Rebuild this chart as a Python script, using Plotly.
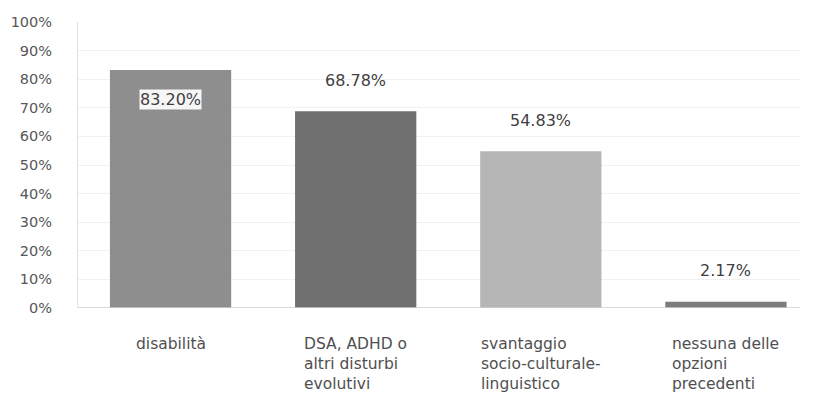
import plotly.graph_objects as go

categories = ["disabilità", "DSA, ADHD o<br>altri disturbi<br>evolutivi",
              "svantaggio<br>socio-culturale-<br>linguistico",
              "nessuna delle<br>opzioni<br>precedenti"]
values = [83.20, 68.78, 54.83, 2.17]
value_labels = ["83.20%", "68.78%", "54.83%", "2.17%"]
colors = ["#8e8e8e", "#6f6f6f", "#b6b6b6", "#7c7c7c"]
y_ticks = [0, 10, 20, 30, 40, 50, 60, 70, 80, 90, 100]
y_tick_labels = [f"{t}%" for t in y_ticks]

xs = list(range(len(categories)))
font = "DejaVu Sans"

fig = go.Figure(go.Bar(
    x=xs, y=values, marker=dict(color=colors, line=dict(width=0)),
    width=0.655, hoverinfo="skip",
))

# value labels
for i, (v, t) in enumerate(zip(values, value_labels)):
    inside = i == 0
    fig.add_annotation(
        x=i, y=v, xref="x", yref="y", text=t, showarrow=False,
        yshift=-29 if inside else 31,
        font=dict(family=font, size=16, color="#3f3f3f"),
        bgcolor="rgba(255,255,255,0.92)" if inside else None,
        borderpad=0,
    )

# category labels (left-aligned multi-line)
for i, c in enumerate(categories):
    fig.add_annotation(
        x=i, y=0, xref="x", yref="y", text=c, showarrow=False,
        align="left", xanchor="center", yanchor="top", yshift=-25,
        font=dict(family=font, size=15.5, color="#505050"),
    )

fig.update_layout(
    width=814, height=398,
    margin=dict(l=78, r=14, t=22, b=90),
    plot_bgcolor="white", paper_bgcolor="white",
    showlegend=False,
    xaxis=dict(range=[-0.5, 3.4], showticklabels=False, showgrid=False,
               zeroline=False, showline=False, fixedrange=True),
    yaxis=dict(range=[0, 100], tickvals=y_ticks, ticktext=y_tick_labels,
               showgrid=True, gridcolor="#f1f1f1", gridwidth=1,
               zeroline=False, showline=True, linecolor="#e2e2e2",
               ticks="", ticklabelstandoff=22,
               tickfont=dict(family=font, size=14.5, color="#575757")),
)
fig.add_shape(type="line", xref="paper", yref="y", x0=0, x1=1, y0=0, y1=0,
              line=dict(color="#cfcfcf", width=1.5))

fig.write_html("out.html")
